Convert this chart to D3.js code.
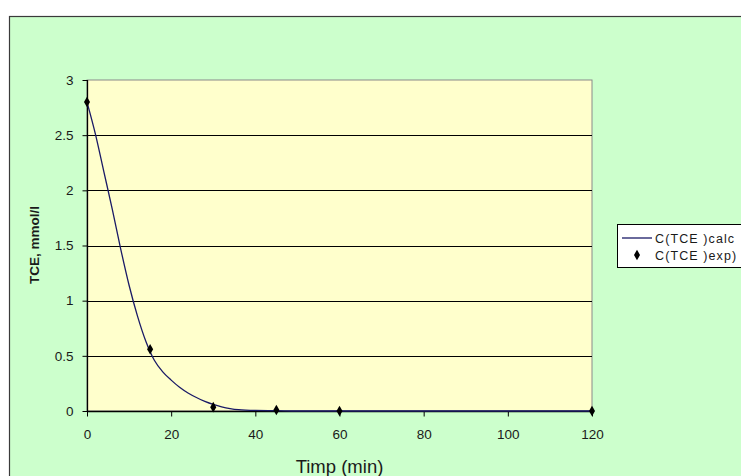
<!DOCTYPE html>
<html><head><meta charset="utf-8">
<script src="https://cdn.jsdelivr.net/npm/d3@7"></script>
<style>body{margin:0;background:#fff}svg{display:block}text{font-family:Arial,"Liberation Sans",sans-serif}</style>
</head><body>
<svg id="c" width="741" height="476"></svg>
<script>
const expTime = [0, 15, 30, 45, 60, 120];
const expValues = [2.8, 0.56, 0.035, 0.01, 0.0, 0.0];
const calcTime = [0, 2, 4, 6, 8, 10, 12, 14, 16, 18, 20, 22, 24, 26, 28, 30, 32, 34, 36, 40, 45, 50, 60, 120];
const calcValues = [2.8, 2.51, 2.17, 1.83, 1.47, 1.14, 0.86, 0.63, 0.46, 0.355, 0.28, 0.215, 0.163, 0.122, 0.088, 0.06, 0.038, 0.022, 0.012, 0.005, 0.003, 0, 0, 0];
const xTicks = [0, 20, 40, 60, 80, 100, 120];
const yTicks = [0, 0.5, 1, 1.5, 2, 2.5, 3];
const legendLabels = ["C(TCE )calc", "C(TCE )exp)"];

const svg = d3.select("#c");
svg.append("rect").attr("x", 9.5).attr("y", 16.5).attr("width", 760).attr("height", 500)
  .attr("fill", "#CCFFCC").attr("stroke", "#3a3a3a").attr("stroke-width", 1.2);

const L = 87, R = 592, T = 80, B = 411;
const x = d3.scaleLinear().domain([0, 120]).range([L, R]);
const y = d3.scaleLinear().domain([0, 3]).range([B, T]);

svg.append("rect").attr("x", L).attr("y", T).attr("width", R - L).attr("height", B - T)
  .attr("fill", "#FFFFCC").attr("stroke", "#8a8a8a").attr("stroke-width", 1);

// gridlines
svg.append("g").selectAll("line").data(yTicks.filter(v => v > 0 && v < 3)).join("line")
  .attr("x1", L).attr("x2", R).attr("y1", d => Math.round(y(d)) + 0.5).attr("y2", d => Math.round(y(d)) + 0.5)
  .attr("stroke", "#000").attr("stroke-width", 1);

// axes
const yAxis = d3.axisLeft(y).tickValues(yTicks).tickSize(5).tickPadding(9).tickFormat(d3.format("~g"));
const gy = svg.append("g").attr("transform", `translate(${L + 0.5},0)`).call(yAxis);
const xAxis = d3.axisBottom(x).tickValues(xTicks).tickSize(5).tickPadding(13).tickFormat(d3.format("d"));
const gx = svg.append("g").attr("transform", `translate(0,${B + 0.5})`).call(xAxis);
[gx, gy].forEach(g => {
  g.select(".domain").attr("stroke", "#000").attr("stroke-width", 1.3);
  g.selectAll(".tick line").attr("stroke", "#000");
  g.selectAll("text").attr("font-size", "13.5px").attr("fill", "#1a1a1a").attr("font-family", "Arial, 'Liberation Sans', sans-serif");
});
gx.select(".domain").attr("d", `M${L},0H${R}`);
gy.select(".domain").attr("d", `M0,${B}V${T}`);

// calc line
const calc = calcTime.map((t, i) => [t, calcValues[i]]);
svg.append("path").datum(calc)
  .attr("d", d3.line().x(d => x(d[0])).y(d => y(d[1])).curve(d3.curveMonotoneX))
  .attr("fill", "none").attr("stroke", "#1a1a66").attr("stroke-width", 1.3);

// exp markers
const diamond = d3.symbol().type(d3.symbolDiamond).size(32);
svg.append("g").selectAll("path").data(expTime.map((t, i) => [t, expValues[i]])).join("path")
  .attr("transform", d => `translate(${x(d[0])},${y(d[1])})`).attr("d", diamond).attr("fill", "#000");

// titles
svg.append("text").attr("x", (L + R) / 2).attr("y", 473).attr("text-anchor", "middle")
  .attr("font-size", "18.5px").attr("fill", "#1a1a1a").text("Timp (min)");
svg.append("text").attr("transform", `translate(39,245) rotate(-90)`).attr("text-anchor", "middle")
  .attr("font-size", "12px").attr("font-weight", "bold").attr("fill", "#1a1a1a")
  .attr("textLength", 78).attr("lengthAdjust", "spacingAndGlyphs").text("TCE, mmol/l");

// legend
const lg = svg.append("g");
lg.append("rect").attr("x", 617.5).attr("y", 224.5).attr("width", 140).attr("height", 43)
  .attr("fill", "#fff").attr("stroke", "#000").attr("stroke-width", 1);
lg.append("line").attr("x1", 622).attr("x2", 652).attr("y1", 238).attr("y2", 238).attr("stroke", "#1a1a66").attr("stroke-width", 1.3);
lg.append("path").attr("transform", "translate(637,255)").attr("d", diamond).attr("fill", "#000");
lg.selectAll("text").data(legendLabels).join("text")
  .attr("x", 655).attr("y", (d, i) => 242.5 + i * 17).attr("font-size", "12.5px").attr("letter-spacing", "1.1px")
  .attr("fill", "#1a1a1a").text(d => d);
</script>
</body></html>
